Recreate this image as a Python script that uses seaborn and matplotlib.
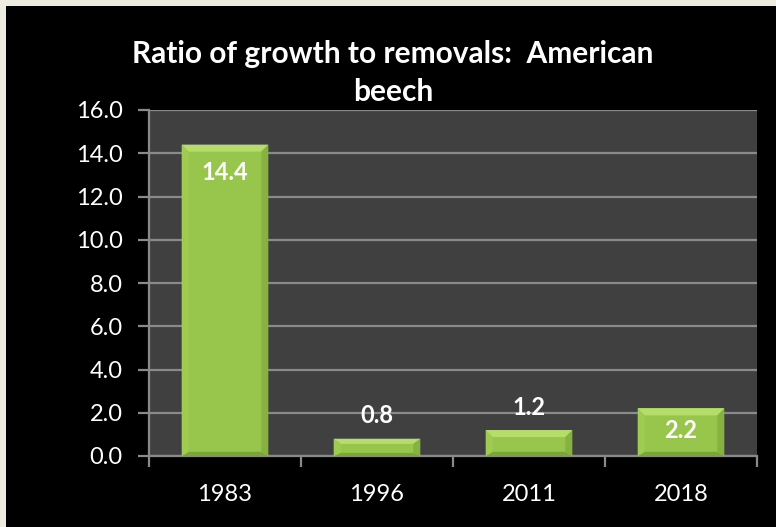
import matplotlib
matplotlib.use("Agg")
import matplotlib.pyplot as plt
import seaborn as sns
import pandas as pd
import numpy as np
from matplotlib.patches import Rectangle, Polygon

years = ["1983", "1996", "2011", "2018"]
ratios = [14.4, 0.8, 1.2, 2.2]
yticks = [0, 2, 4, 6, 8, 10, 12, 14, 16]
title = "Ratio of growth to removals:  American\nbeech"

sns.set_theme(style="dark")
plt.rcParams['font.family'] = ['Lato', 'DejaVu Sans']

W, H = 776, 527
fig = plt.figure(figsize=(W / 100, H / 100), dpi=100)
fig.patch.set_facecolor("#eeebe0")
fig.add_artist(Rectangle((6 / W, 0), 1 - 6 / W, 1 - 6 / H, transform=fig.transFigure,
                         facecolor="black", edgecolor="none", zorder=0))

ax = fig.add_axes([149 / W, 1 - 456 / H, (757 - 149) / W, (456 - 110) / H])
df = pd.DataFrame({"year": years, "ratio": ratios})
sns.barplot(data=df, x="year", y="ratio", ax=ax, color="#98c64c", width=0.57,
            saturation=1, edgecolor="none", linewidth=0, zorder=3)

ax.set_facecolor("#404040")
ax.set_ylim(0, 16)
ax.set_yticks(yticks)
ax.set_yticklabels([f"{v:.1f}" for v in yticks])
ax.yaxis.grid(True, color="#8a8a8a", linewidth=1.6, zorder=1)
ax.xaxis.grid(False)
ax.set_axisbelow(True)
ax.set_xlabel("")
ax.set_ylabel("")
for s in ["top", "right"]:
    ax.spines[s].set_visible(False)
for s in ["left", "bottom"]:
    ax.spines[s].set_visible(True)
    ax.spines[s].set_color("#8a8a8a")
    ax.spines[s].set_linewidth(1.6)

ax.tick_params(axis="y", colors="#8a8a8a", labelcolor="white", labelsize=17,
               length=8, width=1.6, left=True, direction="out", pad=11)
ax.tick_params(axis="x", colors="#8a8a8a", labelcolor="white", labelsize=17,
               length=0, pad=20)
ax.set_xticks(np.arange(-0.5, len(years), 1), minor=True)
ax.tick_params(axis="x", which="minor", length=8, width=1.6, colors="#8a8a8a", bottom=True)
ax.set_xlim(-0.5, len(years) - 0.5)

# bevel effect on bars (pixel-sized bevel converted to data units)
px_x = 4.0 / 608
px_y = 16.0 / 346
bev = 7
for p in ax.patches:
    x0, w, h = p.get_x(), p.get_width(), p.get_height()
    dx = bev * px_x
    dy = min(bev * px_y, h * 0.3)
    x1, y1 = x0 + w, h
    ax.add_patch(Polygon([(x0, y1), (x1, y1), (x1 - dx, y1 - dy), (x0 + dx, y1 - dy)],
                         facecolor="#b5dd6a", edgecolor="none", zorder=4))
    ax.add_patch(Polygon([(x0, 0), (x1, 0), (x1 - dx, dy * 0.6), (x0 + dx, dy * 0.6)],
                         facecolor="#7ca538", edgecolor="none", zorder=4))
    ax.add_patch(Polygon([(x0, 0), (x0 + dx, dy * 0.6), (x0 + dx, y1 - dy), (x0, y1)],
                         facecolor="#9fcb53", edgecolor="none", zorder=4))
    ax.add_patch(Polygon([(x1, 0), (x1 - dx, dy * 0.6), (x1 - dx, y1 - dy), (x1, y1)],
                         facecolor="#87b141", edgecolor="none", zorder=4))

for i, v in enumerate(ratios):
    if v > 2:
        off = -1.3 if v > 5 else -1.0
    else:
        off = 1.05
    ax.text(i, v + off, f"{v:.1f}", ha="center", va="center", color="white",
            fontsize=17, fontweight="bold", zorder=5)

fig.text(393 / W, 1 - 73 / H, title, ha="center", va="center", color="white",
         fontsize=21.5, fontweight="bold", linespacing=1.42)

fig.savefig("out.png", dpi=100, facecolor=fig.get_facecolor())
